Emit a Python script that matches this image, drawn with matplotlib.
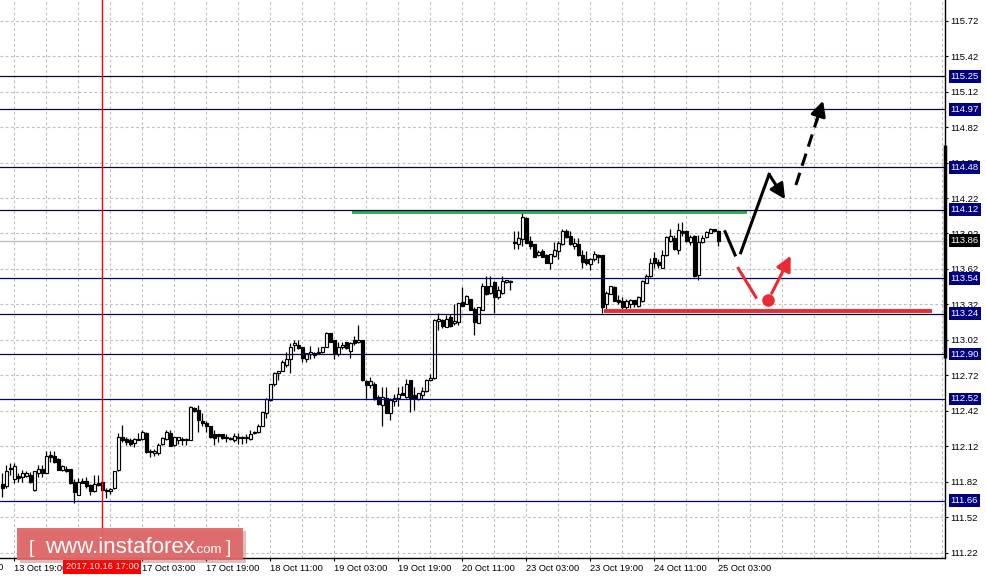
import numpy as np
import matplotlib
matplotlib.use("Agg")
import matplotlib.pyplot as plt
import matplotlib.transforms as mtransforms
from matplotlib.patches import FancyBboxPatch

plt.rcParams['font.family'] = ['Liberation Sans', 'DejaVu Sans']

# hourly candles, first bar = 13 Oct 16:00, last bar = 25 Oct 03:00
opens = [111.80, 111.78, 111.94, 111.84, 111.87, 111.86, 111.87, 111.88, 111.75, 111.89,
         111.93, 111.89, 112.05, 112.04, 112.01, 111.92, 111.93, 111.93, 111.82, 111.71,
         111.83, 111.83, 111.79, 111.74, 111.81, 111.82, 111.75, 111.74, 111.77, 111.92,
         112.20, 112.18, 112.17, 112.15, 112.18, 112.18, 112.23, 112.07, 112.06, 112.06,
         112.14, 112.18, 112.23, 112.13, 112.17, 112.18, 112.17, 112.17, 112.44, 112.43,
         112.33, 112.32, 112.29, 112.22, 112.22, 112.22, 112.20, 112.19, 112.17, 112.20,
         112.20, 112.19, 112.18, 112.23, 112.24, 112.29, 112.40, 112.51, 112.65, 112.74,
         112.76, 112.81, 112.86, 112.98, 112.98, 112.96, 112.86, 112.90, 112.91, 112.91,
         112.92, 112.96, 113.08, 113.02, 112.90, 112.96, 113.00, 112.93, 113.02, 113.00,
         113.02, 112.67, 112.64, 112.65, 112.54, 112.47, 112.53, 112.40, 112.50, 112.53,
         112.57, 112.54, 112.68, 112.55, 112.52, 112.55, 112.59, 112.68, 112.70, 113.18,
         113.19, 113.13, 113.21, 113.16, 113.17, 113.34, 113.32, 113.37, 113.28, 113.16,
         113.27, 113.48, 113.42, 113.51, 113.38, 113.42, 113.51, 113.51, 113.84, 113.83,
         113.87, 114.05, 113.86, 113.83, 113.74, 113.77, 113.74, 113.67, 113.73, 113.77,
         113.83, 113.94, 113.90, 113.81, 113.83, 113.74, 113.70, 113.66, 113.70, 113.74,
         113.74, 113.32, 113.41, 113.47, 113.36, 113.35, 113.30, 113.32, 113.36, 113.31,
         113.35, 113.50, 113.56, 113.71, 113.68, 113.63, 113.74, 113.86, 113.88, 113.78,
         113.94, 113.94, 113.85, 113.90, 113.57, 113.85, 113.89, 113.92, 113.96, 113.94]
highs = [111.89, 111.96, 111.98, 111.98, 111.89, 111.92, 111.91, 111.90, 111.91, 111.96,
         111.96, 112.08, 112.08, 112.08, 112.02, 111.96, 111.95, 111.93, 111.84, 111.85,
         111.85, 111.86, 111.80, 111.88, 111.88, 111.82, 111.77, 111.77, 111.91, 112.23,
         112.30, 112.20, 112.19, 112.19, 112.23, 112.26, 112.24, 112.10, 112.10, 112.15,
         112.20, 112.26, 112.26, 112.20, 112.20, 112.20, 112.19, 112.46, 112.45, 112.47,
         112.40, 112.33, 112.29, 112.26, 112.22, 112.22, 112.22, 112.20, 112.23, 112.23,
         112.21, 112.22, 112.26, 112.25, 112.31, 112.41, 112.53, 112.65, 112.75, 112.76,
         112.85, 112.92, 112.99, 113.02, 113.02, 112.96, 112.91, 112.97, 112.92, 112.96,
         112.96, 113.09, 113.08, 113.02, 113.00, 113.00, 113.00, 113.00, 113.05, 113.15,
         113.02, 112.68, 112.71, 112.66, 112.55, 112.62, 112.62, 112.53, 112.56, 112.62,
         112.63, 112.69, 112.68, 112.62, 112.57, 112.62, 112.69, 112.73, 113.20, 113.25,
         113.20, 113.23, 113.24, 113.32, 113.33, 113.47, 113.40, 113.37, 113.30, 113.30,
         113.50, 113.56, 113.56, 113.52, 113.48, 113.56, 113.53, 113.53, 113.94, 113.94,
         114.10, 114.06, 113.90, 113.83, 113.78, 113.79, 113.75, 113.75, 113.85, 113.86,
         113.96, 113.96, 113.94, 113.88, 113.88, 113.78, 113.77, 113.71, 113.77, 113.75,
         113.74, 113.43, 113.48, 113.48, 113.40, 113.38, 113.37, 113.37, 113.36, 113.39,
         113.53, 113.58, 113.71, 113.76, 113.70, 113.78, 113.90, 113.96, 113.91, 114.01,
         114.02, 113.95, 113.91, 113.91, 113.91, 113.91, 113.94, 113.97, 113.96, 113.95]
lows = [111.69, 111.77, 111.88, 111.81, 111.82, 111.82, 111.86, 111.81, 111.74, 111.86,
        111.86, 111.89, 111.99, 111.98, 111.92, 111.91, 111.90, 111.80, 111.64, 111.71,
        111.81, 111.77, 111.71, 111.73, 111.78, 111.74, 111.68, 111.72, 111.76, 111.91,
        112.16, 112.13, 112.12, 112.11, 112.17, 112.17, 112.06, 112.03, 112.04, 112.05,
        112.13, 112.17, 112.12, 112.12, 112.14, 112.13, 112.13, 112.17, 112.41, 112.24,
        112.29, 112.24, 112.19, 112.13, 112.16, 112.18, 112.16, 112.17, 112.16, 112.14,
        112.14, 112.15, 112.17, 112.22, 112.23, 112.29, 112.36, 112.50, 112.63, 112.68,
        112.76, 112.79, 112.74, 112.93, 112.94, 112.83, 112.83, 112.86, 112.87, 112.90,
        112.91, 112.96, 113.00, 112.86, 112.88, 112.94, 112.94, 112.87, 112.98, 112.99,
        112.67, 112.52, 112.61, 112.51, 112.47, 112.29, 112.40, 112.34, 112.46, 112.46,
        112.55, 112.53, 112.41, 112.43, 112.51, 112.52, 112.58, 112.67, 112.69, 113.10,
        113.12, 113.13, 113.13, 113.15, 113.15, 113.31, 113.32, 113.27, 113.06, 113.16,
        113.27, 113.40, 113.41, 113.25, 113.37, 113.41, 113.50, 113.44, 113.79, 113.79,
        113.81, 113.84, 113.79, 113.72, 113.73, 113.72, 113.67, 113.62, 113.72, 113.70,
        113.82, 113.88, 113.82, 113.79, 113.73, 113.63, 113.65, 113.61, 113.69, 113.67,
        113.25, 113.27, 113.41, 113.35, 113.32, 113.27, 113.26, 113.29, 113.30, 113.30,
        113.34, 113.50, 113.55, 113.63, 113.63, 113.63, 113.73, 113.85, 113.78, 113.75,
        113.90, 113.85, 113.82, 113.55, 113.53, 113.84, 113.88, 113.92, 113.93, 113.81]
closes = [111.77, 111.91, 111.93, 111.95, 111.85, 111.89, 111.89, 111.82, 111.91, 111.93,
          111.89, 112.04, 112.03, 111.99, 111.92, 111.95, 111.91, 111.81, 111.73, 111.82,
          111.81, 111.78, 111.74, 111.80, 111.79, 111.75, 111.74, 111.76, 111.91, 112.20,
          112.17, 112.16, 112.14, 112.18, 112.17, 112.24, 112.07, 112.08, 112.08, 112.13,
          112.19, 112.24, 112.12, 112.20, 112.20, 112.17, 112.18, 112.45, 112.42, 112.34,
          112.32, 112.29, 112.20, 112.19, 112.21, 112.19, 112.19, 112.18, 112.21, 112.19,
          112.19, 112.20, 112.22, 112.24, 112.29, 112.41, 112.52, 112.65, 112.74, 112.76,
          112.83, 112.86, 112.96, 112.99, 112.95, 112.87, 112.91, 112.92, 112.89, 112.92,
          112.96, 113.08, 113.00, 112.91, 112.96, 112.98, 112.95, 112.99, 112.99, 113.02,
          112.68, 112.64, 112.67, 112.52, 112.48, 112.54, 112.40, 112.51, 112.53, 112.56,
          112.55, 112.65, 112.53, 112.52, 112.57, 112.59, 112.68, 112.70, 113.19, 113.20,
          113.14, 113.20, 113.14, 113.18, 113.33, 113.31, 113.39, 113.27, 113.17, 113.30,
          113.48, 113.41, 113.48, 113.38, 113.44, 113.52, 113.53, 113.52, 113.85, 113.88,
          114.06, 113.84, 113.81, 113.72, 113.76, 113.72, 113.67, 113.75, 113.78, 113.84,
          113.94, 113.89, 113.83, 113.84, 113.74, 113.68, 113.67, 113.70, 113.75, 113.72,
          113.30, 113.42, 113.48, 113.35, 113.34, 113.30, 113.35, 113.36, 113.32, 113.38,
          113.52, 113.56, 113.67, 113.67, 113.65, 113.74, 113.89, 113.90, 113.79, 113.95,
          113.92, 113.86, 113.89, 113.56, 113.85, 113.88, 113.93, 113.96, 113.94, 113.86]

time_labels = ["13 Oct 03:00", "13 Oct 19:00", "16 Oct 11:00", "17 Oct 03:00",
               "17 Oct 19:00", "18 Oct 11:00", "19 Oct 03:00", "19 Oct 19:00",
               "20 Oct 11:00", "23 Oct 03:00", "23 Oct 19:00", "24 Oct 11:00",
               "25 Oct 03:00"]
label_bars = [-13, 3, 19, 35, 51, 67, 83, 99, 115, 131, 147, 163, 179]
price_ticks = [111.22, 111.52, 111.82, 112.12, 112.42, 112.72, 113.02, 113.32,
               113.62, 113.92, 114.22, 114.52, 114.82, 115.12, 115.42, 115.72]
levels = [115.25, 114.97, 114.48, 114.12, 113.54, 113.24, 112.90, 112.52, 111.66]
level_colors = ['#08083c', '#08083c', '#08083c', '#08083c', '#000088',
                '#08083c', '#08083c', '#000088', '#000088']
bid = 113.86
cursor_bar = 25
cursor_label = "2017.10.16 17:00"

# forecast drawing (bar index, price)
green_level, green_from, green_to = 114.105, 87.4, 186.2
red_level, red_from, red_to = 113.265, 150.4, 232.4
black_leg1 = ([180.7, 183.2], [113.935, 113.738])
black_leg2 = ([184.6, 191.7], [113.757, 114.42])
black_arrow = ((191.7, 114.42), (195.7, 114.209))
dash_arrow = ((198.4, 114.33), (205.2, 115.043))
red_leg = ([184.0, 188.4], [113.625, 113.38])
red_dot = (191.35, 113.357)
red_arrow = ((192.35, 113.414), (197.1, 113.732))

o = np.array(opens); h = np.array(highs); l = np.array(lows); c = np.array(closes)
x = np.arange(len(o))
up = c >= o

W, H = 986, 579
fig = plt.figure(figsize=(W / 100, H / 100), dpi=100)
ax = fig.add_axes([0, 21 / H, 945 / W, 558 / H])
ax.set_xlim(-0.575, 235.675)
ax.set_ylim(111.175, 115.895)

# grid
for k in range(30):
    ax.axvline(3 + 8 * k, color='#c0c0c0', lw=0.8, ls=(0, (2.5, 2.2)), zorder=0)
for p in price_ticks:
    ax.axhline(p, color='#c0c0c0', lw=0.8, ls=(0, (2.5, 2.2)), zorder=0)

ax.axhline(bid, color='#c0c0c0', lw=1, zorder=1)

# candles
ax.vlines(x, l, h, color='black', lw=0.9, zorder=2)
body_bot = np.minimum(o, c)
body_h = np.maximum(np.abs(c - o), 0.003)
ax.bar(x[up], body_h[up], bottom=body_bot[up], width=0.62, color='white',
       edgecolor='black', lw=0.85, zorder=2.1)
ax.bar(x[~up], body_h[~up], bottom=body_bot[~up], width=0.62, color='black',
       edgecolor='black', lw=0.85, zorder=2.1)

# horizontal levels
for lv, col in zip(levels, level_colors):
    ax.axhline(lv, color=col, lw=0.9, zorder=3)

ax.axvline(cursor_bar, color='red', lw=1, zorder=3.5)

# forecast sketch
ax.plot([green_from, green_to], [green_level, green_level], color='#27b14d',
        lw=2.8, solid_capstyle='butt', zorder=2.9)
ax.plot([red_from, red_to], [red_level, red_level], color='#ec2a33',
        lw=2.8, solid_capstyle='butt', zorder=2.9)
ax.plot(*black_leg1, color='black', lw=2.2, zorder=4)
ax.plot(*black_leg2, color='black', lw=2.2, zorder=4)
ax.annotate('', xy=black_arrow[1], xytext=black_arrow[0],
            arrowprops=dict(arrowstyle='-|>,head_length=0.9,head_width=0.45',
                            color='black', lw=2.2, shrinkA=0, shrinkB=0), zorder=4)
(dx0, dy0), (dx1, dy1) = dash_arrow
ax.plot([dx0, dx0 + (dx1 - dx0) * 0.8], [dy0, dy0 + (dy1 - dy0) * 0.8], color='black',
        lw=2.2, dashes=(4.2, 2.4), zorder=4)
ax.annotate('', xy=(dx1, dy1), xytext=(dx0 + (dx1 - dx0) * 0.75, dy0 + (dy1 - dy0) * 0.75),
            arrowprops=dict(arrowstyle='-|>,head_length=0.9,head_width=0.45',
                            color='black', lw=2.2, shrinkA=0, shrinkB=0), zorder=4)
ax.plot(*red_leg, color='#ec2a33', lw=2.2, zorder=4)
ax.plot(*red_dot, 'o', color='#ec2a33', ms=8, zorder=4)
ax.annotate('', xy=red_arrow[1], xytext=red_arrow[0],
            arrowprops=dict(arrowstyle='-|>,head_length=0.9,head_width=0.45',
                            color='#ec2a33', lw=2.2, shrinkA=0, shrinkB=0), zorder=4)

# axes look
for s in ['top', 'left']:
    ax.spines[s].set_visible(False)
ax.spines['right'].set_linewidth(1)
ax.spines['bottom'].set_linewidth(1)
ax.yaxis.tick_right()
ax.set_yticks(price_ticks)
ax.set_yticklabels([f'{p:.2f}' for p in price_ticks])
ax.tick_params(axis='y', direction='out', length=2.5, pad=1.5, labelsize=6.8, width=0.8)
ax.set_xticks(label_bars[1:])
ax.set_xticklabels(time_labels[1:])
for lbl in ax.get_xticklabels():
    lbl.set_ha('left')
ax.tick_params(axis='x', direction='out', length=2.5, pad=1.5, labelsize=6.7, width=0.8)

tr_x = mtransforms.blended_transform_factory(ax.transData, ax.transAxes)
tr_y = mtransforms.blended_transform_factory(ax.transAxes, ax.transData)
ax.text(label_bars[0], -0.0095, time_labels[0], transform=tr_x, ha='left', va='top',
        fontsize=6.7, clip_on=False)

# thick marker on the price scale
ax.plot([1, 1], [112.87, 114.67], transform=tr_y, color='black', lw=2.5,
        solid_capstyle='butt', clip_on=False, zorder=5)

# highlighted price labels
for lv in levels:
    ax.text(1.0058, lv, f'{lv:.2f}', transform=tr_y, ha='left', va='center',
            fontsize=6.8, color='white', clip_on=False, zorder=6,
            bbox=dict(boxstyle='square,pad=0.2', fc='#000080', ec='none'))
ax.text(1.0058, bid, f'{bid:.2f}', transform=tr_y, ha='left', va='center',
        fontsize=6.8, color='white', clip_on=False, zorder=6,
        bbox=dict(boxstyle='square,pad=0.2', fc='black', ec='none'))

ax.text(cursor_bar, -0.0161, cursor_label, transform=tr_x, ha='center', va='center',
        fontsize=6.7, color='white', clip_on=False, zorder=6,
        bbox=dict(boxstyle='square,pad=0.25', fc='#ff0000', ec='none'))

# watermark
def fx(px):
    return px / W

def fy(py):
    return 1 - py / H

shadow = FancyBboxPatch((fx(20), fy(563)), fx(226), 32 / H, boxstyle='square,pad=0',
                        transform=fig.transFigure, fc='#a04040', ec='none', alpha=0.35,
                        zorder=10)
box = FancyBboxPatch((fx(17), fy(560)), fx(226), 32 / H, boxstyle='square,pad=0',
                     transform=fig.transFigure, fc='#e06868', ec='none', alpha=0.95,
                     zorder=11)
fig.patches.extend([shadow, box])
fig.text(fx(29), fy(553), '[', fontsize=14, color='white', va='baseline', zorder=12)
fig.text(fx(45), fy(553), 'www.instaforex', fontsize=16, color='white',
         va='baseline', zorder=12)
fig.text(fx(194), fy(553), '.com', fontsize=9.5, color='white', va='baseline', zorder=12)
fig.text(fx(226), fy(553), ']', fontsize=14, color='white', va='baseline', zorder=12)

fig.savefig('out.png', dpi=100)
